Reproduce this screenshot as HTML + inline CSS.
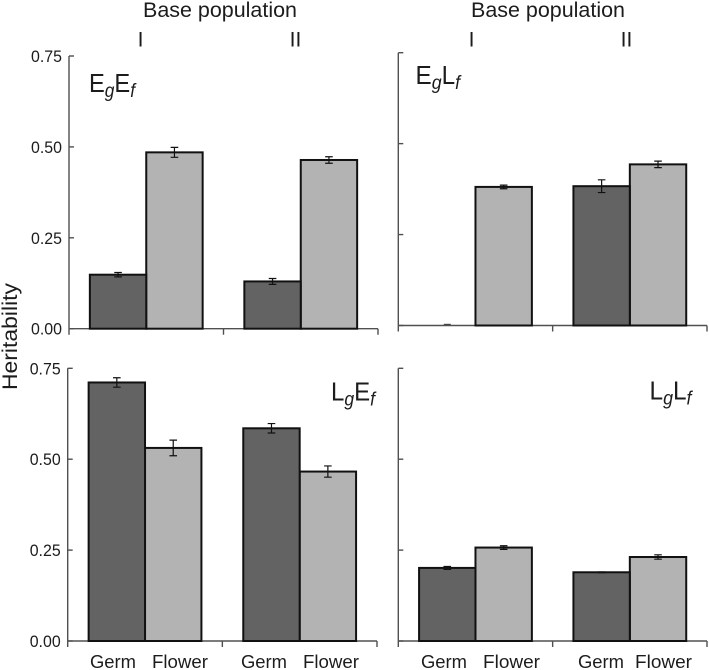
<!DOCTYPE html>
<html lang="en">
<head>
<meta charset="utf-8">
<title>Heritability by base population</title>
<style>
html,body{margin:0;padding:0;background:#fff;width:709px;height:670px;overflow:hidden}
svg{display:block}
text{font-family:"Liberation Sans",sans-serif;fill:#1c1c1c}
</style>
</head>
<body>
<svg id="chart" xmlns="http://www.w3.org/2000/svg" width="709" height="670" viewBox="0 0 709 670">
  <text x="143" y="17" font-size="21" textLength="154" lengthAdjust="spacingAndGlyphs">Base population</text>
  <text x="471" y="17" font-size="21" textLength="154" lengthAdjust="spacingAndGlyphs">Base population</text>
  <text x="140.5" y="46.5" font-size="21" text-anchor="middle">I</text>
  <text x="295.5" y="46.5" font-size="21" text-anchor="middle">II</text>
  <text x="471.5" y="46.5" font-size="21" text-anchor="middle">I</text>
  <text x="626.5" y="46.5" font-size="21" text-anchor="middle">II</text>
  <text transform="translate(17,390) rotate(-90)" font-size="21" textLength="107" lengthAdjust="spacingAndGlyphs">Heritability</text>
  <text x="89" y="92" font-size="26" textLength="46" lengthAdjust="spacingAndGlyphs">E<tspan font-size="19" font-style="italic" dy="5">g</tspan><tspan dy="-5">E</tspan><tspan font-size="19" font-style="italic" dy="5">f</tspan></text>
  <text x="415.5" y="84" font-size="26" textLength="44.5" lengthAdjust="spacingAndGlyphs">E<tspan font-size="19" font-style="italic" dy="5">g</tspan><tspan dy="-5">L</tspan><tspan font-size="19" font-style="italic" dy="5">f</tspan></text>
  <text x="331" y="400.5" font-size="26" textLength="44" lengthAdjust="spacingAndGlyphs">L<tspan font-size="19" font-style="italic" dy="5">g</tspan><tspan dy="-5">E</tspan><tspan font-size="19" font-style="italic" dy="5">f</tspan></text>
  <text x="649.5" y="399.5" font-size="26" textLength="42" lengthAdjust="spacingAndGlyphs">L<tspan font-size="19" font-style="italic" dy="5">g</tspan><tspan dy="-5">L</tspan><tspan font-size="19" font-style="italic" dy="5">f</tspan></text>
  <text x="90" y="668" font-size="18" textLength="46" lengthAdjust="spacingAndGlyphs">Germ</text>
  <text x="152" y="668" font-size="18" textLength="56" lengthAdjust="spacingAndGlyphs">Flower</text>
  <text x="241" y="668" font-size="18" textLength="46" lengthAdjust="spacingAndGlyphs">Germ</text>
  <text x="303" y="668" font-size="18" textLength="56" lengthAdjust="spacingAndGlyphs">Flower</text>
  <text x="421" y="668" font-size="18" textLength="46" lengthAdjust="spacingAndGlyphs">Germ</text>
  <text x="483" y="668" font-size="18" textLength="57" lengthAdjust="spacingAndGlyphs">Flower</text>
  <text x="578" y="668" font-size="18" textLength="46" lengthAdjust="spacingAndGlyphs">Germ</text>
  <text x="635" y="668" font-size="18" textLength="57" lengthAdjust="spacingAndGlyphs">Flower</text>
</svg>
<script>
// Category and tick data
const populations = ['I', 'II'];
const traits = ['Germ', 'Flower'];
const yTickValues = [0, 0.25, 0.5, 0.75];
const yTickLabels = ['0.00', '0.25', '0.50', '0.75'];

// Series values: [population I, population II]
const egefGerm = [0.1485, 0.130];
const egefFlower = [0.485, 0.464];
const eglfGerm = [0.003, 0.383];
const eglfFlower = [0.381, 0.443];
const lgefGerm = [0.711, 0.585];
const lgefFlower = [0.531, 0.466];
const lglfGerm = [0.201, 0.189];
const lglfFlower = [0.257, 0.231];

// Standard errors
const egefGermErr = [0.006, 0.008];
const egefFlowerErr = [0.0137, 0.009];
const eglfGermErr = [0, 0.0175];
const eglfFlowerErr = [0.005, 0.009];
const lgefGermErr = [0.013, 0.013];
const lgefFlowerErr = [0.0215, 0.0155];
const lglfGermErr = [0.004, 0.001];
const lglfFlowerErr = [0.005, 0.006];

const NS = 'http://www.w3.org/2000/svg';
const svg = document.getElementById('chart');
const AXIS_COLOR = '#505050';
const FILLS = { Germ: '#636363', Flower: '#b3b3b3' };

function add(tag, attrs) {
  const el = document.createElementNS(NS, tag);
  for (const k in attrs) el.setAttribute(k, attrs[k]);
  svg.insertBefore(el, svg.firstElementChild);
  return el;
}

function drawPanel(id, frame, germ, flower, germErr, flowerErr, showTickLabels) {
  const groupWidth = frame.width / populations.length;
  const barWidth = 56.4;
  const yScale = v => frame.y0 - (v / 0.75) * (frame.y0 - frame.yTop);
  const xScale = (g, t) => frame.x0 + (g + 0.5) * groupWidth + (t - 1) * barWidth;
  const seriesByTrait = [germ, flower];
  const errByTrait = [germErr, flowerErr];

  // Marks are inserted at the front of the SVG, so build errors first and axes last for correct stacking.
  populations.forEach((pop, g) => {
    traits.forEach((trait, t) => {
      const value = seriesByTrait[t][g];
      const err = errByTrait[t][g];
      const x = xScale(g, t);
      const cx = x + barWidth / 2;
      if (err > 0) {
        const errGroup = add('path', {
          d: 'M' + cx + ' ' + yScale(value + err) + 'V' + yScale(value - err) +
             'M' + (cx - 3.8) + ' ' + yScale(value + err) + 'h7.6' +
             'M' + (cx - 3.8) + ' ' + yScale(value - err) + 'h7.6',
          fill: 'none', stroke: '#111', 'stroke-width': 1.2
        });
        
        
      }
    });
  });

  populations.forEach((pop, g) => {
    traits.forEach((trait, t) => {
      const value = seriesByTrait[t][g];
      const x = xScale(g, t);
      const isStub = value < 0.01;
      const bar = isStub
        ? add('line', {
            x1: x + barWidth / 2 - 3.5, x2: x + barWidth / 2 + 3.5,
            y1: yScale(value), y2: yScale(value), stroke: '#444', 'stroke-width': 1.2
          })
        : add('rect', {
            x: x, y: yScale(value), width: barWidth, height: frame.y0 - yScale(value),
            fill: FILLS[trait], stroke: '#111', 'stroke-width': 2
          });
      
      
    });
  });

  const xAxis = add('path', {
    d: 'M' + frame.x0 + ' ' + frame.y0 + 'H' + (frame.x0 + frame.width) +
       'M' + frame.x0 + ' ' + frame.y0 + 'v6' +
       'M' + (frame.x0 + groupWidth) + ' ' + frame.y0 + 'v6' +
       'M' + (frame.x0 + frame.width) + ' ' + frame.y0 + 'v6',
    fill: 'none', stroke: AXIS_COLOR, 'stroke-width': 1.4
  });
  
  

  const yAxis = add('line', {
    x1: frame.x0, x2: frame.x0, y1: yScale(0.75), y2: frame.y0,
    stroke: AXIS_COLOR, 'stroke-width': 1.4
  });
  
  

  yTickValues.forEach((tick, i) => {
    const tickMark = add('line', {
      x1: frame.x0, x2: frame.x0 + 5, y1: yScale(tick), y2: yScale(tick),
      stroke: AXIS_COLOR, 'stroke-width': 1.4
    });
    
    
    if (showTickLabels) {
      const label = add('text', {
        x: frame.x0 - 7, y: yScale(tick) + 6, 'font-size': 17, 'text-anchor': 'end',
        textLength: 31, lengthAdjust: 'spacingAndGlyphs'
      });
      label.textContent = yTickLabels[i];
      
      
    }
  });
}

drawPanel('egef', { x0: 69, width: 309, y0: 328.7, yTop: 56 }, egefGerm, egefFlower, egefGermErr, egefFlowerErr, true);
drawPanel('eglf', { x0: 398.3, width: 308.7, y0: 325.5, yTop: 52.7 }, eglfGerm, eglfFlower, eglfGermErr, eglfFlowerErr, false);
drawPanel('lgef', { x0: 67.7, width: 309.3, y0: 641, yTop: 368.3 }, lgefGerm, lgefFlower, lgefGermErr, lgefFlowerErr, true);
drawPanel('lglf', { x0: 398.3, width: 308.7, y0: 641, yTop: 368.3 }, lglfGerm, lglfFlower, lglfGermErr, lglfFlowerErr, false);
</script>
</body>
</html>
